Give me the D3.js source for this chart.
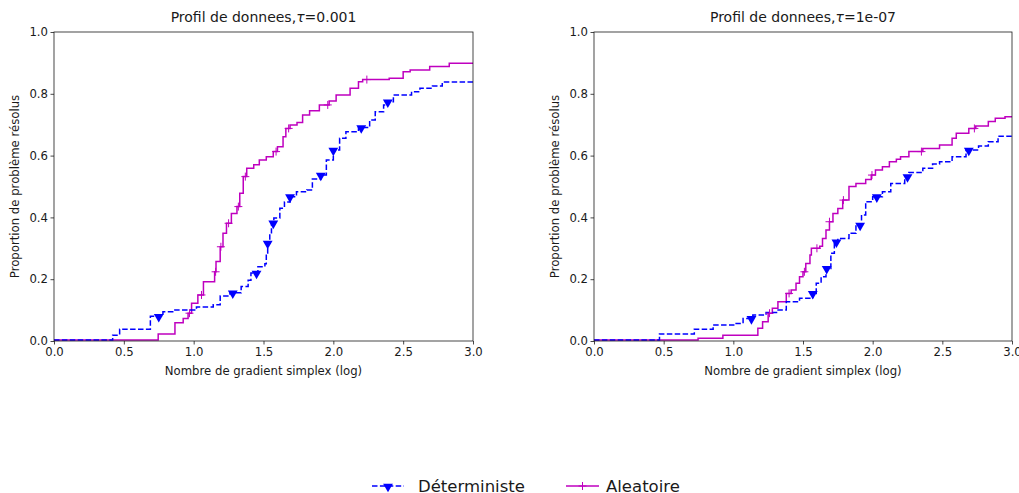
<!DOCTYPE html>
<html>
<head>
<meta charset="utf-8">
<script src="https://cdn.jsdelivr.net/npm/d3@7"></script>
<style>
  body { margin: 0; background: #fff; }
  svg { font-family: "DejaVu Sans", sans-serif; }
</style>
</head>
<body>
<script>
'use strict';

// step breakpoints [x, proportion]
const detLeft = [[0, 0.003], [0.42, 0.019], [0.47, 0.038], [0.69, 0.08], [0.78, 0.095], [0.85, 0.1],
  [1.02, 0.11], [1.14, 0.117], [1.19, 0.146], [1.26, 0.156], [1.34, 0.176], [1.39, 0.197],
  [1.41, 0.22], [1.46, 0.24], [1.51, 0.25], [1.52, 0.285], [1.53, 0.317], [1.545, 0.35],
  [1.557, 0.382], [1.574, 0.398], [1.617, 0.43], [1.65, 0.45], [1.69, 0.467], [1.736, 0.483],
  [1.81, 0.489], [1.85, 0.524], [1.91, 0.537], [1.95, 0.586], [2.0, 0.618], [2.045, 0.656],
  [2.09, 0.677], [2.18, 0.691], [2.26, 0.715], [2.3, 0.742], [2.36, 0.764], [2.39, 0.774],
  [2.43, 0.796], [2.56, 0.807], [2.62, 0.818], [2.71, 0.825], [2.78, 0.838], [3.0, 0.838]];
const aleLeft = [[0, 0.003], [0.746, 0.023], [0.866, 0.059], [0.925, 0.073], [0.96, 0.09],
  [0.985, 0.122], [1.03, 0.149], [1.07, 0.192], [1.15, 0.224], [1.16, 0.257], [1.19, 0.305],
  [1.21, 0.349], [1.235, 0.381], [1.27, 0.413], [1.31, 0.435], [1.33, 0.478], [1.355, 0.532],
  [1.38, 0.559], [1.43, 0.57], [1.47, 0.586], [1.52, 0.596], [1.57, 0.613], [1.6, 0.629],
  [1.64, 0.661], [1.66, 0.688], [1.69, 0.699], [1.74, 0.707], [1.78, 0.731], [1.83, 0.745],
  [1.9, 0.764], [1.97, 0.777], [2.02, 0.796], [2.12, 0.818], [2.18, 0.839], [2.21, 0.846],
  [2.4, 0.85], [2.5, 0.871], [2.55, 0.877], [2.69, 0.888], [2.83, 0.899], [3.0, 0.899]];
const detRight = [[0, 0.003], [0.47, 0.023], [0.72, 0.038], [0.855, 0.052], [1.02, 0.057],
  [1.07, 0.073], [1.14, 0.084], [1.235, 0.092], [1.31, 0.1], [1.38, 0.127], [1.475, 0.138],
  [1.57, 0.154], [1.595, 0.187], [1.63, 0.208], [1.665, 0.235], [1.7, 0.284], [1.725, 0.321],
  [1.75, 0.332], [1.83, 0.349], [1.88, 0.375], [1.92, 0.408], [1.95, 0.451], [2.0, 0.467],
  [2.07, 0.483], [2.13, 0.51], [2.23, 0.532], [2.26, 0.545], [2.36, 0.559], [2.43, 0.573],
  [2.48, 0.58], [2.57, 0.596], [2.67, 0.618], [2.76, 0.631], [2.83, 0.645], [2.9, 0.663],
  [3.0, 0.663]];
const aleRight = [[0, 0.003], [0.747, 0.009], [0.925, 0.019], [1.176, 0.041], [1.21, 0.062],
  [1.25, 0.09], [1.28, 0.106], [1.32, 0.127], [1.38, 0.154], [1.415, 0.165], [1.45, 0.187],
  [1.475, 0.208], [1.5, 0.224], [1.52, 0.251], [1.55, 0.278], [1.56, 0.3], [1.62, 0.307],
  [1.64, 0.332], [1.665, 0.359], [1.69, 0.386], [1.715, 0.413], [1.75, 0.429], [1.785, 0.456],
  [1.83, 0.5], [1.88, 0.51], [1.95, 0.523], [1.99, 0.537], [2.02, 0.553], [2.07, 0.564],
  [2.12, 0.58], [2.17, 0.588], [2.2, 0.596], [2.26, 0.613], [2.36, 0.623], [2.48, 0.634],
  [2.57, 0.656], [2.6, 0.672], [2.69, 0.688], [2.74, 0.696], [2.83, 0.71], [2.88, 0.721],
  [2.95, 0.726], [3.0, 0.726]];

// x positions of the markers
const detLeftMarks = [0.75, 1.28, 1.45, 1.53, 1.57, 1.69, 1.91, 2.0, 2.2, 2.39];
const aleLeftMarks = [0.97, 1.056, 1.157, 1.195, 1.25, 1.32, 1.37, 1.59, 1.68, 1.96, 2.24];
const detRightMarks = [1.13, 1.57, 1.67, 1.74, 1.91, 2.03, 2.25, 2.69];
const aleRightMarks = [1.26, 1.4, 1.51, 1.6, 1.69, 1.79, 1.995, 2.35, 2.73];

const xTicks = [0, 0.5, 1, 1.5, 2, 2.5, 3];
const yTicks = [0, 0.2, 0.4, 0.6, 0.8, 1.0];
const seriesNames = ['Déterministe', 'Aleatoire'];
const titles = ['0.001', '1e-07'];

const W = 1019, H = 493;
const BLUE = '#0000ff', MAG = '#bf00bf';
const INK = '#1a1a1a';

const svg = d3.select('body').append('svg')
  .attr('width', W).attr('height', H)
  .attr('viewBox', `0 0 ${W} ${H}`)
  .attr('xmlns', 'http://www.w3.org/2000/svg');

const stepAt = (pts, x) => {
  let y = pts[0][1];
  pts.forEach(p => { if (p[0] <= x) y = p[1]; });
  return y;
};

const triangle = d3.symbol().type(d3.symbolTriangle).size(42);

const appendPanel = (node, ctx) => {
  const { left, top, width, height, tau, det, ale, detMarks, aleMarks, id } = ctx;
  const x = d3.scaleLinear().domain([0, 3]).range([0, width]);
  const y = d3.scaleLinear().domain([0, 1]).range([height, 0]);

  const g = node.append('g').attr('transform', `translate(${left}, ${top})`);

  g.append('clipPath').attr('id', id)
    .append('rect')
      .attr('x', 0).attr('y', -4)
      .attr('width', width).attr('height', height + 8);

  const line = d3.line()
    .x(d => x(d[0])).y(d => y(d[1]))
    .curve(d3.curveStepAfter);

  const plot = g.append('g').attr('clip-path', `url(#${id})`);

  plot.append('path')
    .attr('d', line(ale))
    .attr('fill', 'none')
    .attr('stroke', MAG)
    .attr('stroke-width', 1.5);

  plot.append('path')
    .attr('d', line(det))
    .attr('fill', 'none')
    .attr('stroke', BLUE)
    .attr('stroke-width', 1.5)
    .attr('stroke-dasharray', '5.5,2.4');

  plot.selectAll('.plus')
    .data(aleMarks)
    .join('path')
      .attr('class', 'plus')
      .attr('transform', d => `translate(${x(d)}, ${y(stepAt(ale, d))})`)
      .attr('d', 'M-4,0H4M0,-4V4')
      .attr('stroke', MAG)
      .attr('stroke-width', 1);

  plot.selectAll('.tri')
    .data(detMarks)
    .join('path')
      .attr('class', 'tri')
      .attr('transform', d => `translate(${x(d)}, ${y(stepAt(det, d)) + 0.5}) rotate(180)`)
      .attr('d', triangle)
      .attr('fill', BLUE);

  // axes
  const xAxis = g.append('g')
    .attr('transform', `translate(0, ${height})`)
    .call(d3.axisBottom(x).tickValues(xTicks).tickFormat(d3.format('.1f')).tickSizeOuter(0).tickSize(3.5));
  const yAxis = g.append('g')
    .call(d3.axisLeft(y).tickValues(yTicks).tickFormat(d3.format('.1f')).tickSizeOuter(0).tickSize(3.5));
  [xAxis, yAxis].forEach(a => {
    a.selectAll('text').attr('font-size', 11.7).attr('fill', INK)
      .attr('font-family', '"DejaVu Sans", sans-serif');
    a.selectAll('line').attr('stroke', INK).attr('stroke-width', 0.8);
    a.select('.domain').remove();
  });
  xAxis.selectAll('text').attr('dy', '0.8em').attr('y', 5.5);
  yAxis.selectAll('text').attr('x', -6);

  // frame
  g.append('rect')
    .attr('x', 0).attr('y', 0)
    .attr('width', width).attr('height', height)
    .attr('fill', 'none')
    .attr('stroke', INK)
    .attr('stroke-width', 0.8);

  const title = g.append('text')
    .attr('x', width / 2).attr('y', -10)
    .attr('text-anchor', 'middle')
    .attr('font-size', 14)
    .attr('fill', INK);
  title.append('tspan').text('Profil de donnees,');
  title.append('tspan').attr('font-style', 'italic').text('τ');
  title.append('tspan').text('=' + tau);

  g.append('text')
    .attr('x', width / 2).attr('y', height + 34)
    .attr('text-anchor', 'middle')
    .attr('font-size', 11.7)
    .attr('fill', INK)
    .text('Nombre de gradient simplex (log)');

  g.append('text')
    .attr('transform', `translate(-35, ${height / 2}) rotate(-90)`)
    .attr('text-anchor', 'middle')
    .attr('font-size', 11.7)
    .attr('fill', INK)
    .text('Proportion de problème résolus');
};

appendPanel(svg, {
  left: 54, top: 32, width: 419, height: 309, tau: titles[0],
  det: detLeft, ale: aleLeft, detMarks: detLeftMarks, aleMarks: aleLeftMarks, id: 'clipL'
});
appendPanel(svg, {
  left: 594, top: 32, width: 418, height: 309, tau: titles[1],
  det: detRight, ale: aleRight, detMarks: detRightMarks, aleMarks: aleRightMarks, id: 'clipR'
});

// legend
const legend = svg.append('g').attr('transform', 'translate(372, 486)');
legend.append('line')
  .attr('x1', 0).attr('x2', 32).attr('y1', 0).attr('y2', 0)
  .attr('stroke', BLUE).attr('stroke-width', 1.5)
  .attr('stroke-dasharray', '5.5,2.4');
legend.append('path')
  .attr('transform', 'translate(16, 0.5) rotate(180)')
  .attr('d', triangle)
  .attr('fill', BLUE);
legend.append('text')
  .attr('x', 46).attr('y', 5.5)
  .attr('font-size', 16.5)
  .attr('fill', INK)
  .text(seriesNames[0]);
legend.append('line')
  .attr('x1', 194).attr('x2', 227).attr('y1', 0).attr('y2', 0)
  .attr('stroke', MAG).attr('stroke-width', 1.5);
legend.append('path')
  .attr('transform', 'translate(210.5, 0)')
  .attr('d', 'M-4,0H4M0,-4V4')
  .attr('stroke', MAG).attr('stroke-width', 1);
legend.append('text')
  .attr('x', 234).attr('y', 5.5)
  .attr('font-size', 16.5)
  .attr('fill', INK)
  .text(seriesNames[1]);
</script>
</body>
</html>
